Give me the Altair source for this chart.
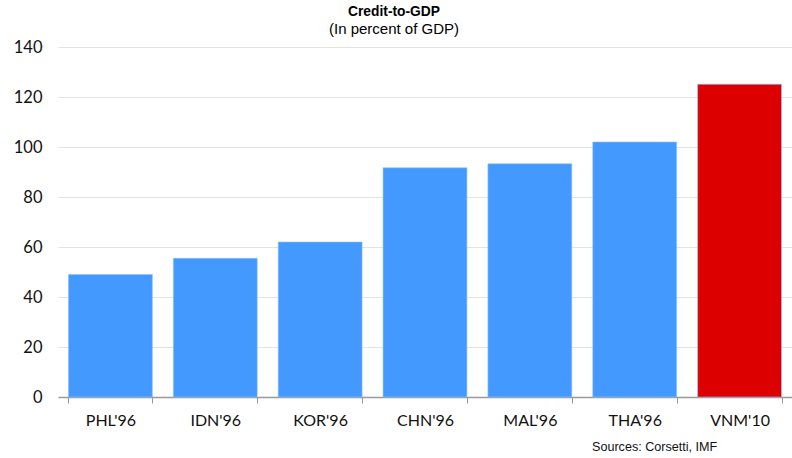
import altair as alt
import pandas as pd

categories = ["PHL'96", "IDN'96", "KOR'96", "CHN'96", "MAL'96", "THA'96", "VNM'10"]
values = [49.0, 55.5, 62.0, 91.7, 93.3, 102.0, 125.1]
highlight = ["no", "no", "no", "no", "no", "no", "yes"]
y_ticks = [0, 20, 40, 60, 80, 100, 120, 140]

df = pd.DataFrame({"cat": categories, "val": values, "hl": highlight})

bars = alt.Chart(df).mark_bar(stroke="#8fc1ff", strokeWidth=1, strokeOpacity=0.6).encode(
    x=alt.X("cat:N", sort=categories, title=None,
            scale=alt.Scale(paddingInner=0.2, paddingOuter=0.1),
            axis=alt.Axis(labelAngle=0, labelFont="Lato", labelFontSize=16,
                          labelColor="#111111", labelPadding=9,
                          tickBand="extent", tickSize=6, tickColor="#999999",
                          domainColor="#999999", domainWidth=1.5)),
    y=alt.Y("val:Q", title=None,
            scale=alt.Scale(domain=[0, 140]),
            axis=alt.Axis(values=y_ticks, labelFont="Lato", labelFontSize=16.5,
                          labelColor="#111111", labelPadding=16, ticks=False,
                          domain=False, grid=True, gridColor="#e3e3e3")),
    color=alt.Color("hl:N", scale=alt.Scale(domain=["no", "yes"], range=["#4499ff", "#dd0000"]),
                    legend=None),
)

source = alt.Chart(pd.DataFrame({"t": ["Sources: Corsetti, IMF"]})).mark_text(
    font="Liberation Sans", fontSize=12.6, color="#111111", align="left", baseline="middle"
).encode(text="t:N", x=alt.value(534), y=alt.value(400))

chart = alt.layer(bars, source).properties(
    width=734, height=350,
    padding={"left": 58, "top": 47, "right": 0, "bottom": 61},
    autosize=alt.AutoSizeParams(type="none"),
    title=alt.TitleParams(
        text="Credit-to-GDP", subtitle="(In percent of GDP)",
        font="Liberation Sans", fontSize=13.8, fontWeight="bold", color="#000000",
        subtitleFont="Liberation Sans", subtitleFontSize=15, subtitleColor="#000000",
        subtitlePadding=3, anchor="middle", dx=-31, offset=2,
    ),
).configure_view(stroke=None)

chart.save("out.html", embed_options={"renderer": "svg", "actions": False})
